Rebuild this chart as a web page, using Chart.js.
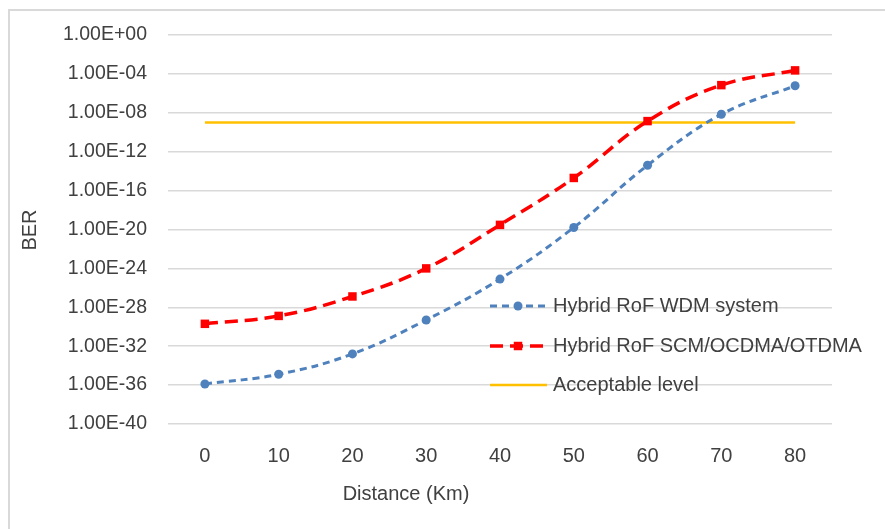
<!DOCTYPE html>
<html>
<head>
<meta charset="utf-8">
<script src="https://cdn.jsdelivr.net/npm/chart.js@4.4.1/dist/chart.umd.min.js"></script>
<style>
  html, body { margin: 0; padding: 0; background: #fff; }
  #wrap { position: relative; width: 885px; height: 529px; overflow: hidden; }
  #frame { position: absolute; left: 8px; top: 9px; width: 900px; height: 560px;
           border-left: 2px solid #d9d9d9; border-top: 2px solid #d9d9d9; }
  canvas { position: absolute; left: 0; top: 0; }
</style>
</head>
<body>
<div id="wrap">
  <div id="frame"></div>
  <canvas id="berChart" width="885" height="529"></canvas>
</div>
<script>
// distances along x, in km
const distances = ["0", "10", "20", "30", "40", "50", "60", "70", "80"];

// BER
const wdmBer = [1.3e-36, 1.3e-35, 1.6e-33, 5e-30, 8e-26, 1.6e-20, 4e-14, 7e-9, 6e-6];
const ocdmaBer = [2e-30, 1.3e-29, 1.3e-27, 1e-24, 3e-20, 2e-15, 1.4e-9, 7e-6, 2.3e-4];
const acceptable = [1e-9, 1e-9, 1e-9, 1e-9, 1e-9, 1e-9, 1e-9, 1e-9, 1e-9];

// y ticks, every 4 decades
const yTickValues = [1, 1e-4, 1e-8, 1e-12, 1e-16, 1e-20, 1e-24, 1e-28, 1e-32, 1e-36, 1e-40];
const yTickLabels = ["1.00E+00", "1.00E-04", "1.00E-08", "1.00E-12", "1.00E-16", "1.00E-20",
                     "1.00E-24", "1.00E-28", "1.00E-32", "1.00E-36", "1.00E-40"];

const FONT = '"Liberation Sans", Arial, sans-serif';
const TEXT = "#404040";

Chart.defaults.font.family = FONT;
Chart.defaults.color = TEXT;

// ================= LEGEND + AXIS TITLES =================
const extras = {
  id: "extras",
  afterDraw(chart) {
    const ctx = chart.ctx;
    ctx.save();

    // axis titles
    ctx.fillStyle = TEXT;
    ctx.font = "20px " + FONT;
    ctx.textAlign = "center";
    ctx.textBaseline = "middle";
    ctx.fillText("Distance (Km)", 406, 494);
    ctx.save();
    ctx.translate(30, 230);
    ctx.rotate(-Math.PI / 2);
    ctx.fillText("BER", 0, 0);
    ctx.restore();

    // legend inside the plot
    const rows = [306, 346, 385];
    chart.data.datasets.forEach((ds, i) => {
      const y = rows[i];
      ctx.save();
      ctx.strokeStyle = ds.borderColor;
      ctx.lineWidth = ds.borderWidth;
      ctx.setLineDash(ds.borderDash || []);
      ctx.lineCap = ds.borderCapStyle || "butt";
      ctx.beginPath();
      ctx.moveTo(490, y);
      ctx.lineTo(547, y);
      ctx.stroke();
      ctx.restore();
      if (ds.pointRadius > 0) {
        ctx.fillStyle = ds.pointBackgroundColor;
        ctx.strokeStyle = ds.pointBorderColor;
        Chart.helpers.drawPoint(ctx, {
          pointStyle: ds.pointStyle,
          radius: ds.pointRadius,
          borderWidth: 0
        }, 518, y);
      }
      ctx.fillStyle = TEXT;
      ctx.font = "20px " + FONT;
      ctx.textAlign = "left";
      ctx.textBaseline = "middle";
      ctx.fillText(ds.label, 553, y);
    });

    ctx.restore();
  }
};

new Chart(document.getElementById("berChart"), {
  type: "line",
  data: {
    labels: distances,
    datasets: [
      {
        label: "Hybrid RoF WDM system",
        data: wdmBer,
        borderColor: "#4f81bd",
        borderWidth: 3,
        borderDash: [7, 5],
        pointStyle: "circle",
        pointRadius: 4.5,
        pointBackgroundColor: "#4f81bd",
        pointBorderColor: "#4f81bd",
        pointBorderWidth: 0,
        tension: 0.4
      },
      {
        label: "Hybrid RoF SCM/OCDMA/OTDMA",
        data: ocdmaBer,
        borderColor: "#ff0000",
        borderWidth: 3.5,
        borderDash: [13, 7],
        pointStyle: "rect",
        pointRadius: 6,
        pointBackgroundColor: "#ff0000",
        pointBorderColor: "#ff0000",
        pointBorderWidth: 0,
        tension: 0.4
      },
      {
        label: "Acceptable level",
        data: acceptable,
        borderColor: "#ffc000",
        borderWidth: 2.5,
        pointRadius: 0,
        tension: 0
      }
    ]
  },
  options: {
    responsive: false,
    animation: false,
    layout: { padding: { top: 35, right: 53, left: 0, bottom: 0 } },
    plugins: {
      legend: { display: false },
      tooltip: { enabled: false }
    },
    scales: {
      x: {
        type: "category",
        offset: true,
        grid: { display: false, drawTicks: false },
        border: { display: false },
        ticks: { padding: 20, font: { size: 20 }, color: TEXT, maxRotation: 0 },
        afterFit(scale) { scale.height = 105; }
      },
      y: {
        type: "logarithmic",
        min: 1e-40,
        max: 1,
        grid: { color: "#d9d9d9", lineWidth: 1.5, drawTicks: false },
        border: { display: false },
        ticks: {
          padding: 21,
          autoSkip: false,
          font: { size: 19.5 },
          color: TEXT,
          callback(value) {
            const i = yTickValues.findIndex(v => Math.abs(Math.log10(v) - Math.log10(value)) < 1e-6);
            return i >= 0 ? yTickLabels[i] : "";
          }
        },
        afterBuildTicks(scale) {
          scale.ticks = yTickValues.map(v => ({ value: v }));
        },
        afterFit(scale) { scale.width = 168; }
      }
    }
  },
  plugins: [extras]
});
</script>
</body>
</html>
